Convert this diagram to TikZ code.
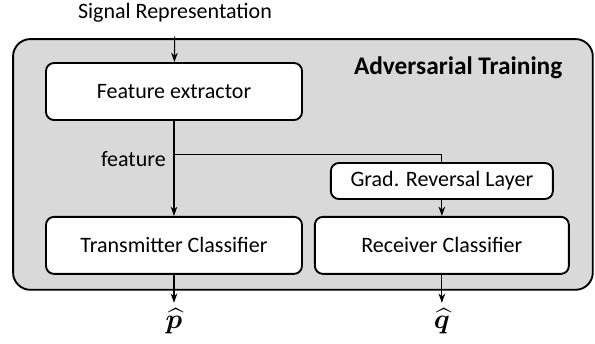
\documentclass[tikz,border=0pt]{standalone}
\usepackage{amsmath,bm}
\usepackage{fontspec}
\setmainfont{Carlito}
\usepackage{tikz}
\usetikzlibrary{arrows.meta,positioning,backgrounds}

\begin{document}
\begin{tikzpicture}[
    x=0.75pt, y=-0.75pt,
    font=\fontsize{16.5}{19}\selectfont,
    box/.style={draw, line width=1.4pt, rounded corners=6pt, minimum height=42.75pt, align=center, fill=white},
    smallbox/.style={box, minimum height=27pt},
    panel/.style={draw, line width=1.4pt, rounded corners=13pt, fill=black!15},
    arrow/.style={-{Stealth[length=7pt,width=5pt]}, line width=0.8pt},
    line/.style={line width=0.8pt},
    outp/.style={font=\fontsize{20}{22}\selectfont, inner sep=1pt}
]
\useasboundingbox (0,0) rectangle (595,343);

\node[box, minimum width=192pt] (fe) at (174,91.5) {Feature extractor};
\node[box, minimum width=192pt, below=71.25pt of fe] (tx) {Transmitter Classifier};
\node[box, minimum width=190.5pt, right=8.25pt of tx] (rx) {Receiver Classifier};
\node[smallbox, minimum width=166.5pt, above=12pt of rx] (grl) {Grad. Reversal Layer};
\node (sig) at (175,13) {Signal Representation};
\node[anchor=east, font=\fontsize{19}{22}\selectfont\bfseries] (title) at (567,68) {Adversarial Training};
\coordinate[below=25.5pt of fe.south] (split);
\node[left=6pt of split, yshift=-3pt, inner sep=0pt] (featlbl) {feature};
\node[outp, below=24pt of tx] (phat) {$\bm{\widehat{p}}$};
\node[outp, below=24pt of rx] (qhat) {$\bm{\widehat{q}}$};

% grey frame behind the whole training block
\begin{scope}[on background layer]
\draw[panel] ([xshift=-24pt,yshift=17.25pt]fe.north west) rectangle ([xshift=17.25pt,yshift=-11.25pt]rx.south east);
\end{scope}

\draw[arrow, shorten <=7pt] (sig) -- (fe);
\draw[arrow] (fe) -- (tx);
\draw[line] (split) -| (grl.north);
\draw[arrow] (grl) -- (rx.north -| grl.south);
\draw[arrow, shorten >=3pt] (tx) -- (phat);
\draw[arrow, shorten >=3pt] (rx) -- (qhat);
\end{tikzpicture}
\end{document}
